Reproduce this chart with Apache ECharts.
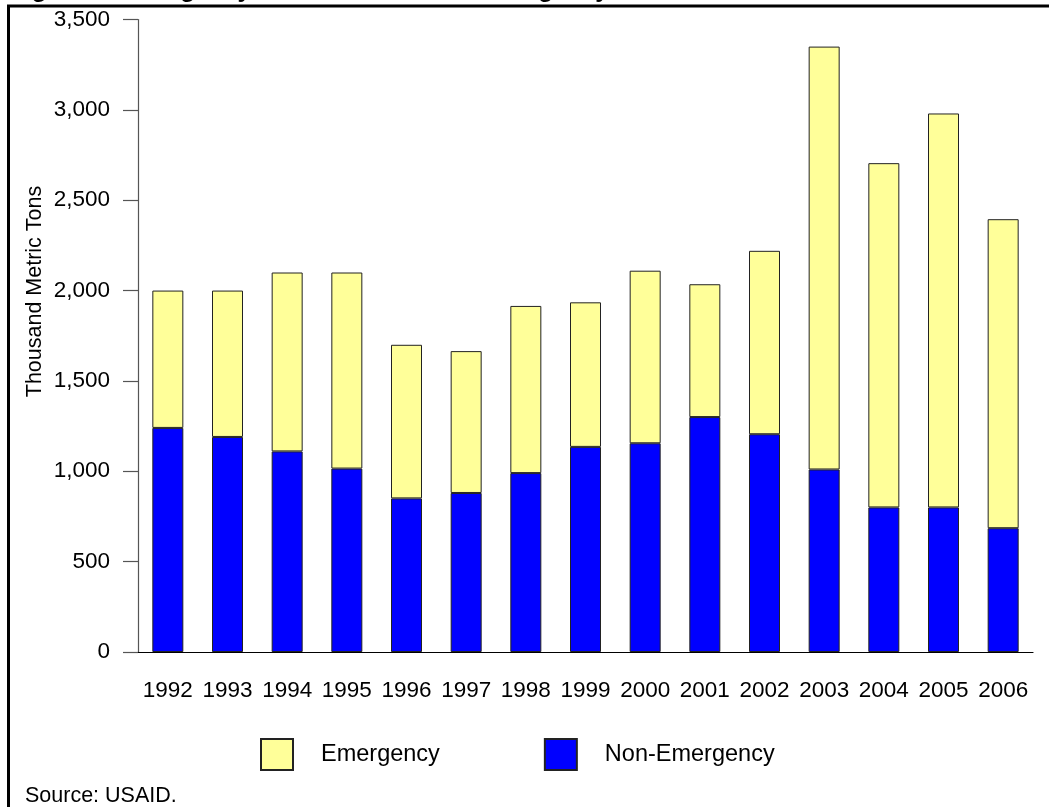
<!DOCTYPE html>
<html>
<head>
<meta charset="utf-8">
<script src="https://cdn.jsdelivr.net/npm/echarts@6/dist/echarts.min.js"></script>
<style>
html,body{margin:0;padding:0;background:#fff;}
#c{width:1049px;height:807px;}
</style>
</head>
<body>
<div id="c"></div>
<script>
const years = ['1992','1993','1994','1995','1996','1997','1998','1999','2000','2001','2002','2003','2004','2005','2006'];
const nonEmergency = [1240,1190,1110,1015,850,880,990,1135,1155,1300,1205,1010,800,800,685];
const emergency = [760,810,990,1085,850,785,925,800,955,735,1015,2340,1905,2180,1710];
const yTicks = {min:0, max:3500, interval:500};
const titleText = 'Figure 2. Emergency Food Aid and Non-Emergency Food Aid';
const yName = 'Thousand Metric Tons';
const sourceText = 'Source: USAID.';

const FONT = 'Liberation Sans, Arial, sans-serif';
const chart = echarts.init(document.getElementById('c'), null, {renderer:'canvas'});
chart.setOption({
  animation:false,
  backgroundColor:'#fff',
  grid:{left:138, right:16, top:19.5, bottom:155, containLabel:false},
  legend:{
    left:255, top:733,
    icon:'rect', itemWidth:32, itemHeight:31, itemGap:104,
    textStyle:{fontFamily:FONT, fontSize:23.5, color:'#000', padding:[0,0,0,23]},
    data:['Emergency','Non-Emergency'],
    selectedMode:false
  },
  xAxis:[{
    type:'category', data:years,
    axisLine:{lineStyle:{color:'#000', width:1.2}},
    axisTick:{alignWithLabel:true, length:13, lineStyle:{color:'#333', width:1.2}},
    axisLabel:{fontFamily:FONT, fontSize:22.5, color:'#000', margin:27, interval:0}
  },{
    type:'category', data:years, position:'bottom',
    axisLine:{show:false},
    axisTick:{inside:true, length:3, lineStyle:{color:'#333', width:1.2}},
    axisLabel:{show:false}
  }],
  yAxis:{
    type:'value', min:yTicks.min, max:yTicks.max, interval:yTicks.interval,
    splitLine:{show:false},
    axisLine:{show:true, lineStyle:{color:'#555', width:1.2}},
    axisTick:{show:true, length:15, lineStyle:{color:'#555', width:1.2}},
    axisLabel:{fontFamily:FONT, fontSize:22.5, color:'#000', margin:28,
      formatter:v=>v.toLocaleString('en-US')}
  },
  graphic:[
    {type:'line', shape:{x1:7, y1:6, x2:1049, y2:6}, style:{stroke:'#000', lineWidth:3}},
    {type:'line', shape:{x1:8.5, y1:5, x2:8.5, y2:807}, style:{stroke:'#000', lineWidth:3}},
    {type:'text', x:10, y:-10, style:{text:titleText, font:'bold 24.5px '+FONT, fill:'#000', verticalAlign:'middle', align:'left'}},
    {type:'text', x:35, y:291.5, rotation:Math.PI/2, style:{text:yName, font:'21.5px '+FONT, fill:'#000', align:'center', verticalAlign:'middle'}},
    {type:'text', x:25, y:796, style:{text:sourceText, font:'21.5px '+FONT, fill:'#000', align:'left', verticalAlign:'middle'}}
  ],
  series:[
    {name:'Non-Emergency', type:'bar', stack:'t', data:nonEmergency, barWidth:31,
      itemStyle:{color:'#0000FF', borderColor:'#222', borderWidth:1}},
    {name:'Emergency', type:'bar', stack:'t', data:emergency, barWidth:31,
      itemStyle:{color:'#FFFF99', borderColor:'#222', borderWidth:1}}
  ]
});
</script>
</body>
</html>
